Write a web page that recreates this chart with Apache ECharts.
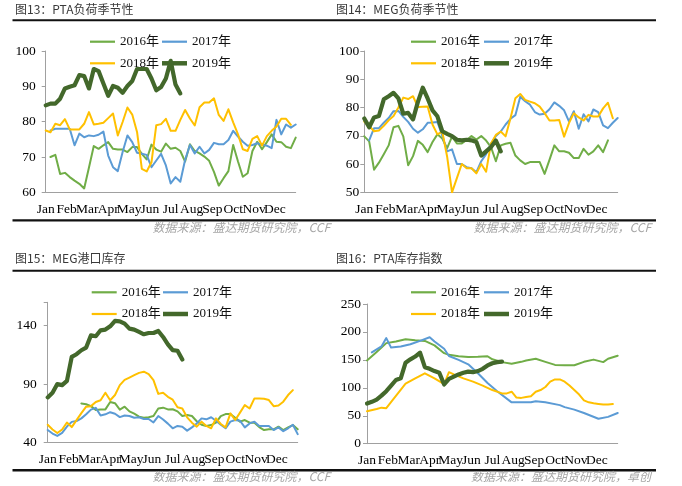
<!DOCTYPE html>
<html><head><meta charset="utf-8">
<script src="https://cdn.jsdelivr.net/npm/echarts@6/dist/echarts.min.js"></script>
<style>html,body{margin:0;padding:0;background:#fff}#c{width:682px;height:486px}</style>
</head><body><div id="c"></div>
<script>
// ---------- data ----------
const monthLabels = ['Jan','Feb','Mar','Apr','May','Jun','Jul','Aug','Sep','Oct','Nov','Dec'];
const seriesNames = ['2016年','2017年','2018年','2019年'];
const panelTitles = ['图13：PTA负荷季节性','图14：MEG负荷季节性','图15：MEG港口库存','图16：PTA库存指数'];
const panelSources = ['数据来源：盛达期货研究院，CCF','数据来源：盛达期货研究院，CCF','数据来源：盛达期货研究院，CCF','数据来源：盛达期货研究院，卓创'];

// y tick labels per panel
const ptaLoadTicks = [60,70,80,90,100];
const megLoadTicks = [50,60,70,80,90,100];
const megPortTicks = [40,90,140];
const megPortAxisMax = 160;
const ptaInvTicks = [0,50,100,150,200,250];

// weekly values (array index = week of year)
// Fig.13 PTA load
const ptaLoad2016 = [null,70,70.6,65.2,65.5,64.3,63.3,62.4,61.1,67,73.1,72.3,73.3,74.2,72.3,72.1,72.1,71.4,72.8,72.8,70.9,69.3,73.5,72.1,71.5,73.8,72.3,72.6,71.7,68.7,73.6,71.7,71,70.1,68.9,65.8,61.9,64,66,73.4,68.7,64.4,65.4,71.7,74.3,72.2,74.2,76.4,74.3,74.2,72.9,72.5,75.5];
const ptaLoad2017 = [null,77.5,78,78,78,78,73.3,76.6,75.6,76.1,75.9,76.3,77.2,70.4,67.1,66,71.4,76.1,74.2,71.2,70.9,70.6,67.1,69,70.9,67.6,62.5,64.3,63,69.2,73.4,71,72.9,71,72,74,73.6,73.6,74.8,77.4,75.8,74.3,73.2,73.4,73.9,73.5,73.2,72.5,80.5,76.4,79.2,78.3,79.2];
const ptaLoad2018 = [77.5,77,79.4,79,80.7,77.8,77.8,77.8,79.4,82.7,79.2,79.4,79.7,81,82.3,76.1,79.9,84,82,77.1,66.6,65.9,68.5,79,79.3,80.8,77.4,77.4,80.5,83.3,80.9,78.9,84.1,85.4,85.4,86.6,81.9,80.2,83.5,79.8,76.4,72.2,71.7,75.1,75.9,73.2,75.9,77.4,78.6,80.8,80.8,79.1];
const ptaLoad2019 = [84.6,85.1,85.1,86.5,89.4,89.9,90.3,93.2,92.9,89.4,94.9,94.3,90.8,87.3,90.1,89.6,88.2,90.1,91.5,94.9,94.9,94.9,92.2,88.9,89.8,92.2,97.2,90.5,88];

// Fig.14 MEG load
const megLoad2016 = [69.8,68,58,60.5,63.5,66.6,73,73.5,69.8,59.6,62.8,68.2,66.8,64.2,67.8,70.5,69,65.6,69.7,67.3,67.3,68.5,69.9,68.7,69.9,68.3,66,61,66.6,67.2,67.5,63,61.3,60,60.7,60.7,60.7,56.5,61.5,66.6,64.5,64.5,64,62.1,62.1,65.4,63.3,64.5,66.6,64.2,68.4];
const megLoad2017 = [null,68.4,72.7,72.7,74.6,76.3,78.7,78.8,76.7,74.9,72.5,71.1,72.3,74.6,74.7,74.9,70,64.5,65.2,60,60,58.9,58.5,57.1,61,63.5,67.2,69.9,71.5,74,76,77.3,83.8,82.2,81,78.4,77.5,77.8,79.4,81.8,80.6,79,75.1,78.7,72.5,77.6,75.1,79.3,78.4,73.7,72.7,74.6,76.3];
const megLoad2018 = [75,73.5,71.6,71.9,73.5,75.5,77,80,83.5,83,84,80.2,80.3,80.4,74,70.5,71.5,62.6,50,55,60,58.5,58.5,56.7,60,57.3,67.3,70.3,71.5,69.8,76.2,83.3,84.8,82.7,82.1,81.5,80.3,78,75.4,75.4,75.6,69.7,74.5,78,76.5,75.4,77.4,76.8,76.8,79.7,81.7,76.2];
const megLoad2019 = [76.1,73,76.5,77,82.9,84,85.2,83.2,77.8,78.1,75.8,82,87,83.2,79,76.9,71.6,70.7,69.9,68.6,68.4,68.6,68.4,67.8,63,64.5,66,68.3,64.5];

// Fig.15 MEG port inventory
const megPort2016 = [null,null,null,null,null,null,null,73.3,72.6,71,67.6,68.2,68.2,74.6,73.5,68,70.5,66.5,64.5,62,61,61.5,62.5,69,69.7,68.2,68.3,66.5,62.5,63.4,62.5,58,55,54,54.8,56.8,62.5,64.2,64.2,61,57.7,59.1,56.8,56.8,53,50.5,51.1,51.1,53.4,50.5,52.8,54.8,51.1];
const megPort2017 = [50.5,47.5,45.5,48,53.5,57.5,58.2,60.5,64,68,69.5,63,64,65.8,64.5,61.6,63,62.5,61,61.5,60,60,57,62.5,59.5,56,52,54,53.4,50,52.8,56.2,60.5,59.7,61.5,58.5,55,52,57.7,59.1,58.5,52.8,56.2,57.7,54,54,54,50.5,52.8,49.5,52,55,47];
const megPort2018 = [55,51,48,51,57,53,59,65,70.5,71,74.5,76,82.5,76,80.5,89,93.5,95.5,97.5,99.5,100.5,98.5,93.3,81.5,82.5,79,76.5,70,69,61.4,56.8,53.4,57.7,54,52,60.5,55.7,52.8,64.8,59.1,65.4,71.9,69,77.6,77.6,77.3,76.2,71,71.5,74.8,80.5,84.7];
const megPort2019 = [78.5,82.5,89.9,89,92.7,113.2,115.5,118.9,121.2,131.7,130.9,136,136.6,139.4,144,143.7,141.7,137.4,136.6,134.6,132.6,133.7,133.7,135.4,130.3,124,119,118.5,111];

// Fig.16 PTA inventory index (weeks where values are recorded + values)
const ptaInv2016Weeks = [0,2,4,6,8,10,12,14,16,17,19,21,23,25,26,28,30,32,33,35,37,39,41,43,45,47,49,50,52];
const ptaInv2016 = [149,164,180,183,187,185,184,176,162,159,156.5,155,155.5,156.5,151,146,143,146.5,149,152,146.5,141,140.5,140.5,146.5,150.5,146,152,157.5];
const ptaInv2017Weeks = [1,3,4,5,7,9,11,13,14,16,17,19,21,23,25,27,30,32,34,35,37,40,41,43,45,48,50,52];
const ptaInv2017 = [163.5,174,189,172,174,178,184,190.5,183,170,157,150,142,126,108.5,94,74,74,74,76,74,69,65.5,61,55,44.7,48,55];
const ptaInv2018Weeks = [0,2,3,4,8,10,12,14,16,17,18,20,22,24,26,28,29,30,31,32,33,34,35,36,37,38,39,40,41,42,43,44,45,46,47,48,49,50,51];
const ptaInv2018 = [58,62,64.5,63.5,107.5,117,126,117,106.5,128,124,117,111,104,96,90,90,93,82.5,82,83.5,85,93,96,101.5,111,115,115,111,104,96,88,77.5,74,72.5,71.2,70,70,71];
const ptaInv2019 = [72,75,79,86,94,104,114,117,145,151,156,163,137,134,130,127,106,116,120,124,127,129,128,130,134,140,144,146,147];

// ---------- styles / layout ----------
const weeksInYear = 52;
const colors = ['#70AD47','#5B9BD5','#FFC000','#43682B'];
const widths = [2,2,2,4.2];
const serif = '"Liberation Serif","Times New Roman","Noto Sans CJK SC",serif';
const sans = '"Noto Sans CJK SC","Noto Sans",sans-serif';

const layout = [
  {grid:{left:45.7,top:51,width:250,height:141.3}, yMargin:10, legLeft:[90,162], legTop:[35.2,56.8], tLeft:15, tTop:3, sRight:352, sTop:221.5, rTop:19.3, rBot:219.2, rX:[12.5,336]},
  {grid:{left:364.3,top:51,width:253.4,height:141.3}, yMargin:5, legLeft:[411,484], legTop:[35.2,56.8], tLeft:336, tTop:3, sRight:31, sTop:221.5, rTop:19.3, rBot:219.2, rX:[336,656]},
  {grid:{left:47.7,top:302.3,width:250,height:140}, yMargin:11, legLeft:[91.7,163], legTop:[285.8,307.5], tLeft:15, tTop:252, sRight:352, sTop:470.8, rTop:269.7, rBot:469, rX:[12.5,336]},
  {grid:{left:367,top:304,width:250.7,height:139.7}, yMargin:6, legLeft:[411,484], legTop:[285.8,307.5], tLeft:336, tTop:252, sRight:31, sTop:470.8, rTop:269.7, rBot:469, rX:[336,656]}
];

const idx = a => a.map((v,i)=>[i,v]);
const pairs = (w,v) => w.map((x,k)=>[x,v[k]]);

const panelData = [
  [idx(ptaLoad2016), idx(ptaLoad2017), idx(ptaLoad2018), idx(ptaLoad2019)],
  [idx(megLoad2016), idx(megLoad2017), idx(megLoad2018), idx(megLoad2019)],
  [idx(megPort2016), idx(megPort2017), idx(megPort2018), idx(megPort2019)],
  [pairs(ptaInv2016Weeks,ptaInv2016), pairs(ptaInv2017Weeks,ptaInv2017), pairs(ptaInv2018Weeks,ptaInv2018), idx(ptaInv2019)]
];
const panelTicks = [ptaLoadTicks, megLoadTicks, megPortTicks, ptaInvTicks];
const panelMax = [ptaLoadTicks[ptaLoadTicks.length-1], megLoadTicks[megLoadTicks.length-1], megPortAxisMax, ptaInvTicks[ptaInvTicks.length-1]];

const grid=[], xAxis=[], yAxis=[], series=[], legend=[], title=[], graphic=[];
layout.forEach((L,p)=>{
  grid.push(Object.assign({containLabel:false}, L.grid));
  xAxis.push({type:'value', gridIndex:p, min:0, max:weeksInYear, interval:weeksInYear/12,
    axisLine:{show:true, lineStyle:{color:'#a0a0a0', width:1}}, axisTick:{show:false}, splitLine:{show:false},
    axisLabel:{margin:10, color:'#000', fontFamily:serif, fontSize:13.5, showMaxLabel:true,
      formatter: v => monthLabels[Math.round(v/(weeksInYear/12))] || ''}});
  const t = panelTicks[p];
  yAxis.push({type:'value', gridIndex:p, min:t[0], max:panelMax[p], interval:t[1]-t[0],
    axisLine:{show:true, lineStyle:{color:'#a0a0a0', width:1}}, axisTick:{show:true, inside:false, length:4, lineStyle:{color:'#a0a0a0'}},
    splitLine:{show:false},
    axisLabel:{margin:L.yMargin, color:'#000', fontFamily:serif, fontSize:13.5,
      formatter: v => t.indexOf(v) >= 0 ? String(v) : ''}});
  seriesNames.forEach((n,s)=>{
    series.push({type:'line', name:n, xAxisIndex:p, yAxisIndex:p, data:panelData[p][s],
      symbol:'none', showSymbol:false, connectNulls: p===3, silent:true, z: 2+s,
      lineStyle:{color:colors[s], width:widths[s], join:'round', cap:'round'}, itemStyle:{color:colors[s]}});
    legend.push({left:L.legLeft[s%2], top:L.legTop[Math.floor(s/2)], padding:0, itemGap:0,
      itemWidth:25, itemHeight: s===3 ? 4.5 : 2.2, icon:'rect', selectedMode:false,
      data:[{name:n, itemStyle:{color:colors[s]}}],
      textStyle:{fontFamily:serif, fontSize:13, color:'#111'}});
  });
  title.push({text:panelTitles[p], left:L.tLeft, top:L.tTop, padding:0,
    textStyle:{fontFamily:sans, fontSize:12, fontWeight:'normal', color:'#3a3a3a'}});
  title.push({text:panelSources[p], right:L.sRight, top:L.sTop, padding:0,
    textStyle:{fontFamily:sans, fontSize:12, fontWeight:'normal', fontStyle:'italic', color:'#a6a6a6'}});
  graphic.push({type:'rect', silent:true, shape:{x:L.rX[0], y:L.rTop, width:L.rX[1]-L.rX[0], height:2}, style:{fill:'#111'}});
  graphic.push({type:'rect', silent:true, shape:{x:L.rX[0], y:L.rBot, width:L.rX[1]-L.rX[0], height:2.4}, style:{fill:'#111'}});
});

const chart = echarts.init(document.getElementById('c'));
chart.setOption({animation:false, backgroundColor:'#fff', grid, xAxis, yAxis, series, legend, title, graphic});
</script></body></html>
